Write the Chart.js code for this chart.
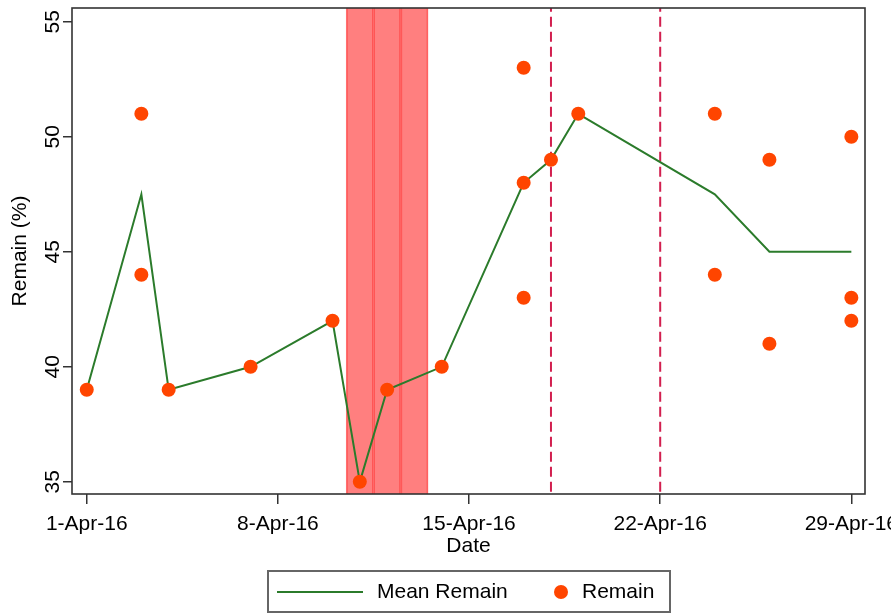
<!DOCTYPE html>
<html>
<head>
<meta charset="utf-8">
<script src="https://cdn.jsdelivr.net/npm/chart.js@4"></script>
<style>
  html, body { margin: 0; padding: 0; background: #fff; }
  #wrap { position: relative; width: 891px; height: 614px; }
  #c { position: absolute; left: 0; top: 0; }
  #legend {
    position: absolute; left: 267px; top: 570px; width: 400px; height: 39px;
    border: 2px solid #666; box-sizing: content-box;
    font-family: "Liberation Sans", Arial, sans-serif; font-size: 21px; color: #000;
  }
  #legend .sw-line { position: absolute; left: 8px; top: 19px; width: 86px; height: 0; border-top: 2.5px solid #2b7b2b; }
  #legend .sw-dot { position: absolute; left: 285px; top: 13px; width: 14px; height: 14px; border-radius: 50%; background: #ff4500; }
  #legend .lbl { position: absolute; top: 7px; line-height: 24px; white-space: nowrap; }
</style>
</head>
<body>
<div id="wrap">
  <canvas id="c" width="891" height="614"></canvas>
  <div id="legend">
    <div class="sw-line"></div><div class="lbl" style="left:108px">Mean Remain</div>
    <div class="sw-dot"></div><div class="lbl" style="left:313px">Remain</div>
  </div>
</div>
<script>
// Day of April 2016 for each observation, and its Remain (%) value
const obsDay    = [1, 3, 3, 4, 7, 10, 11, 12, 14, 17, 17, 17, 18, 19, 24, 24, 26, 26, 29, 29, 29];
const obsRemain = [39, 51, 44, 39, 40, 42, 35, 39, 40, 53, 48, 43, 49, 51, 51, 44, 49, 41, 50, 43, 42];

// Daily mean of Remain (%)
const meanDay    = [1, 3, 4, 7, 10, 11, 12, 14, 17, 18, 19, 24, 26, 29];
const meanRemain = [39, 47.5, 39, 40, 42, 35, 39, 40, 48, 49, 51, 47.5, 45, 45];

// Highlighted days (shaded) and event days (dashed reference lines)
const shadeDays = [11, 12, 13];
const eventDays = [18, 22];

// Axis ticks
const tickDays   = [1, 8, 15, 22, 29];
const tickLabels = ['1-Apr-16', '8-Apr-16', '15-Apr-16', '22-Apr-16', '29-Apr-16'];
const yTicks     = [35, 40, 45, 50, 55];

const FONT = "'Liberation Sans', Arial, sans-serif";
const X_MIN = 0.46, X_MAX = 29.5, Y_MIN = 34.47, Y_MAX = 55.6;

// Plot frame drawn over the data
const framePlugin = {
  id: 'frame',
  afterDatasetsDraw(chart) {
    const { ctx, chartArea: a } = chart;
    ctx.save();
    ctx.strokeStyle = '#333';
    ctx.lineWidth = 1.6;
    ctx.strokeRect(a.left, a.top, a.right - a.left, a.bottom - a.top);
    ctx.restore();
  }
};

const datasets = [
  {
    type: 'bar',
    label: 'Highlighted days',
    data: shadeDays.map(d => ({ x: d, y: [0, 100] })),
    backgroundColor: 'rgba(255, 0, 0, 0.5)',
    borderColor: 'rgba(255, 0, 0, 0.52)',
    borderWidth: 1,
    borderSkipped: false,
    barPercentage: 1,
    categoryPercentage: 1,
    order: 5
  },
  ...eventDays.map(d => ({
    type: 'line',
    label: 'Event ' + d,
    data: [{ x: d, y: 0 }, { x: d, y: 100 }],
    borderColor: '#d21f4f',
    borderWidth: 2,
    borderDash: [10, 5],
    pointRadius: 0,
    order: 4
  })),
  {
    type: 'line',
    label: 'Mean Remain',
    data: meanDay.map((d, i) => ({ x: d, y: meanRemain[i] })),
    borderColor: '#2b7b2b',
    borderWidth: 2,
    pointRadius: 0,
    tension: 0,
    order: 2
  },
  {
    type: 'scatter',
    label: 'Remain',
    data: obsDay.map((d, i) => ({ x: d, y: obsRemain[i] })),
    backgroundColor: '#ff4500',
    borderWidth: 0,
    pointRadius: 7,
    order: 1
  }
];

new Chart(document.getElementById('c'), {
  data: { datasets },
  plugins: [framePlugin],
  options: {
    responsive: false,
    animation: false,
    events: [],
    layout: { padding: { top: 8, right: 26, left: 0, bottom: 0 } },
    plugins: { legend: { display: false }, tooltip: { enabled: false } },
    scales: {
      x: {
        type: 'linear',
        min: X_MIN,
        max: X_MAX,
        offset: false,
        afterBuildTicks(scale) { scale.ticks = tickDays.map(v => ({ value: v })); },
        afterFit(scale) { scale.height = 120; scale.paddingLeft = 0; scale.paddingRight = 0; },
        border: { display: false },
        grid: { offset: false, drawOnChartArea: false, drawTicks: true, tickLength: 10, color: '#333', lineWidth: 1.5 },
        ticks: {
          autoSkip: false,
          maxRotation: 0,
          padding: 8,
          color: '#000',
          font: { family: FONT, size: 21 },
          callback(v) { const i = tickDays.indexOf(v); return i >= 0 ? tickLabels[i] : ''; }
        },
        title: {
          display: true,
          text: 'Date',
          color: '#000',
          font: { family: FONT, size: 21 },
          padding: { top: 0, bottom: 55 }
        }
      },
      y: {
        type: 'linear',
        min: Y_MIN,
        max: Y_MAX,
        afterBuildTicks(scale) { scale.ticks = yTicks.map(v => ({ value: v })); },
        afterFit(scale) { scale.width = 72; scale.paddingTop = 0; scale.paddingBottom = 0; },
        border: { display: false },
        grid: { drawOnChartArea: false, drawTicks: true, tickLength: 9, color: '#333', lineWidth: 1.5 },
        ticks: {
          minRotation: 90,
          maxRotation: 90,
          crossAlign: 'center',
          padding: -2,
          color: '#000',
          font: { family: FONT, size: 21 }
        },
        title: {
          display: true,
          text: 'Remain (%)',
          color: '#000',
          font: { family: FONT, size: 21 },
          padding: { top: 8, bottom: 0 }
        }
      }
    }
  }
});
</script>
</body>
</html>
